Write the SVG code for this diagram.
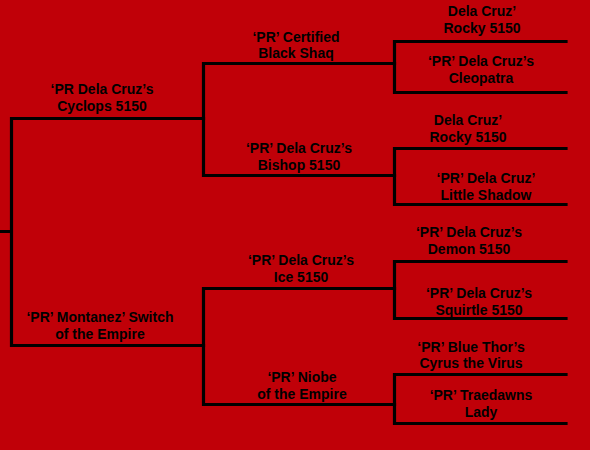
<svg xmlns="http://www.w3.org/2000/svg" width="590" height="450" viewBox="0 0 590 450">
<style>
.c{fill:none;stroke:#000;stroke-width:3.2;stroke-linecap:square}
text{font-family:"Liberation Sans",Arial,sans-serif;font-weight:bold;font-size:14px;fill:#000;text-anchor:middle}
</style>
<rect width="590" height="450" fill="#C00008"/>
<g id="connectors">
<path class="c" d="M0,231.5H11.5M11.5,118.5V345.5M11.5,118.5H203.5M11.5,345.5H203.5"/>
<path class="c" d="M203.5,63.5V175.5M203.5,63.5H394.5M203.5,175.5H394.5"/>
<path class="c" d="M203.5,288.5V404.5M203.5,288.5H394.5M203.5,404.5H394.5"/>
<path class="c" d="M394.5,41.5V92.5M394.5,41.5H566M394.5,92.5H566"/>
<path class="c" d="M394.5,148.5V204.5M394.5,148.5H566M394.5,204.5H566"/>
<path class="c" d="M394.5,261.5V318.5M394.5,261.5H566M394.5,318.5H566"/>
<path class="c" d="M394.5,374.5V423.5M394.5,374.5H566M394.5,423.5H566"/>
</g>
<g id="n1"><text x="102" y="94">‘PR Dela Cruz’s</text><text x="102" y="111">Cyclops 5150</text></g>
<g id="n2"><text x="100" y="322">‘PR’ Montanez’ Switch</text><text x="100" y="339">of the Empire</text></g>
<g id="n3"><text x="296" y="42">‘PR’ Certified</text><text x="296" y="58">Black Shaq</text></g>
<g id="n4"><text x="299" y="153">‘PR’ Dela Cruz’s</text><text x="299" y="170">Bishop 5150</text></g>
<g id="n5"><text x="301" y="265">‘PR’ Dela Cruz’s</text><text x="301" y="282">Ice 5150</text></g>
<g id="n6"><text x="302" y="382">‘PR’ Niobe</text><text x="302" y="399">of the Empire</text></g>
<g id="n7"><text x="482" y="16">Dela Cruz’</text><text x="482" y="33">Rocky 5150</text></g>
<g id="n8"><text x="481" y="66">‘PR’ Dela Cruz’s</text><text x="481" y="83">Cleopatra</text></g>
<g id="n9"><text x="468" y="125">Dela Cruz’</text><text x="468" y="142">Rocky 5150</text></g>
<g id="n10"><text x="486" y="183">‘PR’ Dela Cruz’</text><text x="486" y="200">Little Shadow</text></g>
<g id="n11"><text x="469" y="237">‘PR’ Dela Cruz’s</text><text x="469" y="254">Demon 5150</text></g>
<g id="n12"><text x="479" y="298">‘PR’ Dela Cruz’s</text><text x="479" y="315">Squirtle 5150</text></g>
<g id="n13"><text x="471" y="352">‘PR’ Blue Thor’s</text><text x="471" y="368">Cyrus the Virus</text></g>
<g id="n14"><text x="481" y="400">‘PR’ Traedawns</text><text x="481" y="417">Lady</text></g>
</svg>
